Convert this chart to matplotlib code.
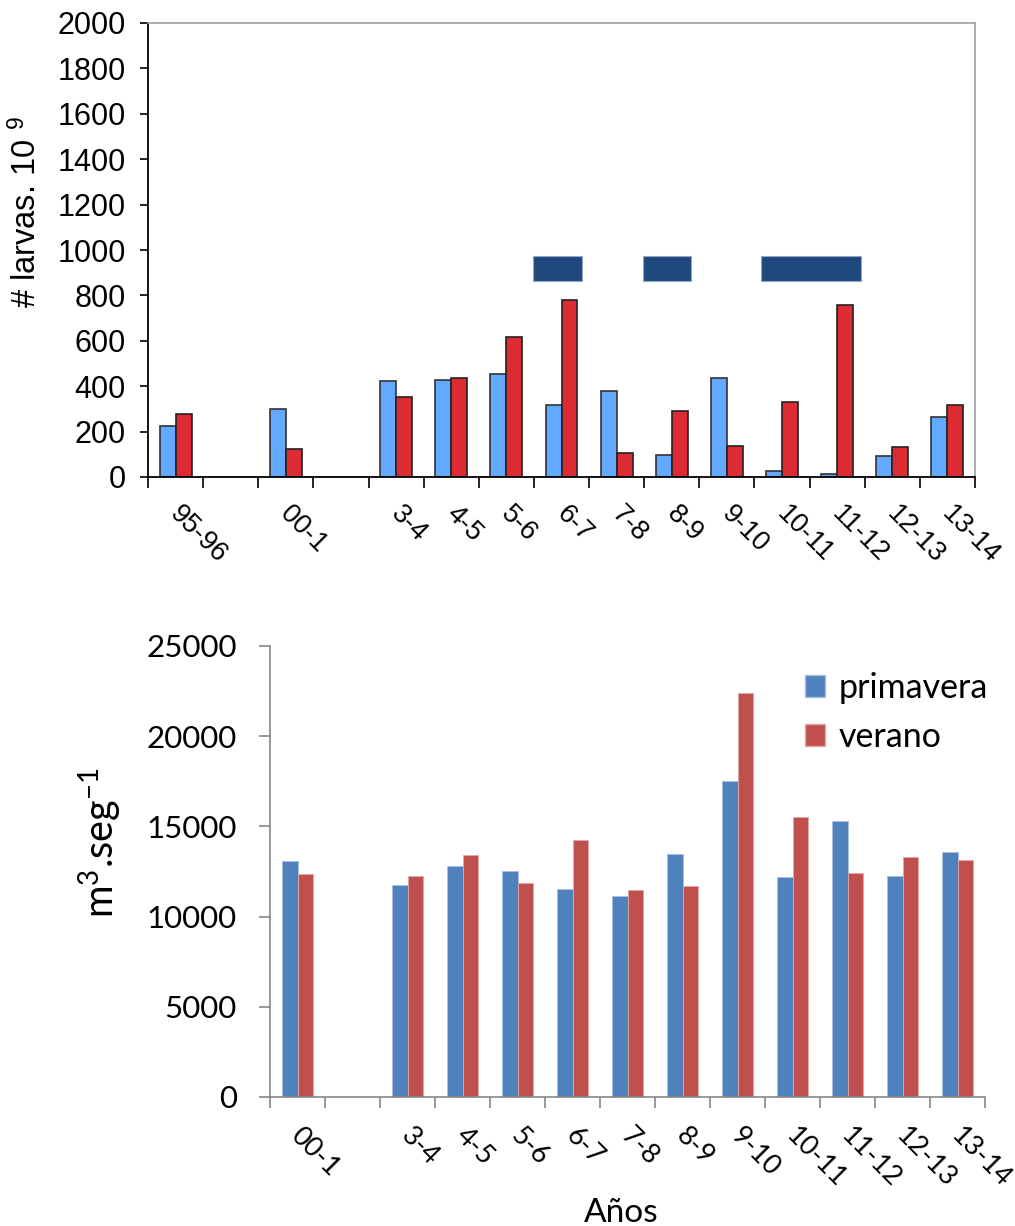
import numpy as np
import matplotlib
matplotlib.use('Agg')
import matplotlib.pyplot as plt
from matplotlib.patches import Patch

plt.rcParams['mathtext.fontset'] = 'custom'
plt.rcParams['mathtext.rm'] = 'Lato'
plt.rcParams['mathtext.it'] = 'Lato:italic'
plt.rcParams['mathtext.sf'] = 'Liberation Sans'

# --- top chart: larvae (10^9) ---
larvas_cat = ['95-96', '', '00-1', '', '3-4', '4-5', '5-6', '6-7', '7-8',
              '8-9', '9-10', '10-11', '11-12', '12-13', '13-14']
larvas_prim = [225, None, 301, None, 423, 429, 455, 319, 379,
               97, 435, 28, 15, 92, 263]
larvas_ver = [279, None, 125, None, 352, 435, 615, 780, 104,
              291, 137, 329, 758, 131, 319]
# dark periods marked above the bars (category units)
periodo_ini = [6.48, 8.48, 10.62]
periodo_fin = [7.37, 9.35, 12.43]
periodo_y = [865, 972]

# --- bottom chart: flow (m3/s) ---
caudal_cat = ['00-1', '', '3-4', '4-5', '5-6', '6-7', '7-8', '8-9',
              '9-10', '10-11', '11-12', '12-13', '13-14']
caudal_prim = [13090, None, 11760, 12780, 12520, 11520, 11150, 13480,
               17500, 12200, 15290, 12260, 13590]
caudal_ver = [12340, None, 12230, 13410, 11840, 14220, 11450, 11700,
              22410, 15500, 12390, 13280, 13150]

W, H = 1015, 1226
fig = plt.figure(figsize=(W / 100, H / 100), dpi=100)


def plot_pairs(ax, prim, ver, w, c1, c2, **kw):
    idx = [i for i, v in enumerate(prim) if v is not None]
    x = np.array(idx, dtype=float)
    ax.bar(x - w / 2, [prim[i] for i in idx], width=w, color=c1, **kw.get('k1', {}))
    ax.bar(x + w / 2, [ver[i] for i in idx], width=w, color=c2, **kw.get('k2', {}))


# top
ax1 = fig.add_axes([148 / W, 1 - 477 / H, 827 / W, 454 / H])
plot_pairs(ax1, larvas_prim, larvas_ver, 0.29, '#63A9FF', '#DC2B32',
           k1=dict(edgecolor='#333333', linewidth=1.2),
           k2=dict(edgecolor='#222222', linewidth=1.2))
ax1.barh((periodo_y[0] + periodo_y[1]) / 2,
         np.array(periodo_fin) - np.array(periodo_ini), left=periodo_ini,
         height=periodo_y[1] - periodo_y[0], color='#1F497D',
         edgecolor='#8FA6C6', linewidth=0.8)
ax1.set_xlim(-0.5, len(larvas_cat) - 0.5)
ax1.set_ylim(0, 2000)
ax1.set_yticks(np.arange(0, 2001, 200))
ax1.set_xticks(np.arange(-0.5, len(larvas_cat), 1))
ax1.set_xticklabels([])
for s in ['left', 'bottom']:
    ax1.spines[s].set_color('black')
    ax1.spines[s].set_linewidth(1.3)
for s in ['top', 'right']:
    ax1.spines[s].set_color('#A0A0A0')
    ax1.spines[s].set_linewidth(1.2)
ax1.tick_params(axis='y', direction='out', length=6, width=1.2, pad=10,
                labelsize=22, labelfontfamily='Liberation Sans')
ax1.tick_params(axis='x', direction='out', length=8, width=1.2)
for i, lab in enumerate(larvas_cat):
    if lab:
        ax1.annotate(lab, xy=(i, 0), xycoords=('data', 'axes fraction'),
                     xytext=(-1, -24), textcoords='offset points',
                     rotation=-45, rotation_mode='anchor', ha='left', va='center',
                     fontsize=19.5, family='Liberation Sans')
fig.text(26 / W, 1 - 212 / H, r'# larvas. 10 $^{\mathsf{9}}$', rotation=90,
         ha='center', va='center', fontsize=23.5, family='Liberation Sans')

# bottom
ax2 = fig.add_axes([270 / W, 1 - 1097 / H, 715 / W, 451 / H])
plot_pairs(ax2, caudal_prim, caudal_ver, 0.285, '#4F81BD', '#C0504D',
           k1=dict(edgecolor='#A9BEDF', linewidth=0.6),
           k2=dict(edgecolor='#E2A9A8', linewidth=0.6))
ax2.set_xlim(-0.5, len(caudal_cat) - 0.5)
ax2.set_ylim(0, 25000)
ax2.set_yticks(np.arange(0, 25001, 5000))
ax2.set_xticks(np.arange(-0.5, len(caudal_cat), 1))
ax2.set_xticklabels([])
for s in ['top', 'right']:
    ax2.spines[s].set_visible(False)
for s in ['left', 'bottom']:
    ax2.spines[s].set_color('#868686')
    ax2.spines[s].set_linewidth(1.2)
ax2.tick_params(axis='both', direction='out', length=8, width=1.2, color='#868686')
ax2.tick_params(axis='y', pad=16, labelsize=22.5, labelfontfamily='Lato')
for i, lab in enumerate(caudal_cat):
    if lab:
        ax2.annotate(lab, xy=(i, 0), xycoords=('data', 'axes fraction'),
                     xytext=(-2, -25), textcoords='offset points',
                     rotation=-45, rotation_mode='anchor', ha='left', va='center',
                     fontsize=19.5, family='Lato')
fig.text(100 / W, 1 - 843 / H, r'm$^{3}$.seg$^{-1}$', rotation=90,
         ha='center', va='center', fontsize=28.5, family='Lato')
fig.text(621 / W, 1 - 1222 / H, 'Años', ha='center', va='baseline',
         fontsize=24, family='Lato')

handles = [Patch(facecolor='#4F81BD', edgecolor='#A9BEDF', label='primavera'),
           Patch(facecolor='#C0504D', edgecolor='#E2A9A8', label='verano')]
ax2.legend(handles=handles, loc='upper left', bbox_to_anchor=(805 / W, 1 - 672 / H),
           bbox_transform=fig.transFigure, frameon=False,
           prop={'family': 'Lato', 'size': 24.5}, handlelength=0.6, handleheight=0.6,
           handletextpad=0.4, labelspacing=0.5, borderpad=0, borderaxespad=0)

fig.savefig('out.png', dpi=100)
